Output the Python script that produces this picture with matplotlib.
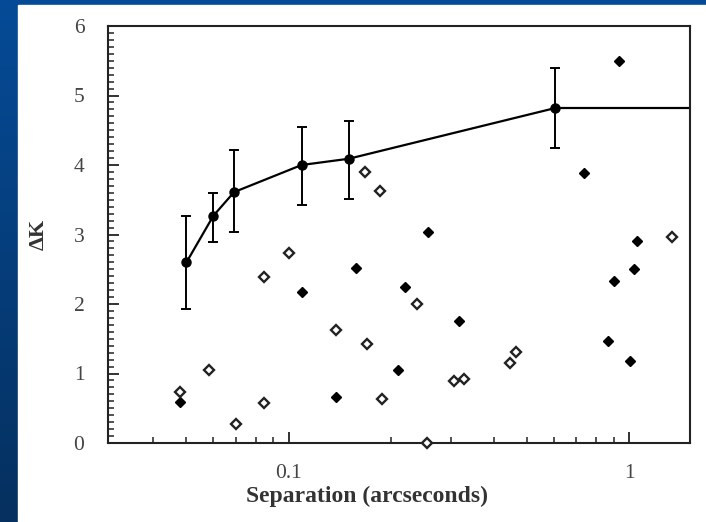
import numpy as np
import matplotlib
matplotlib.use("Agg")
import matplotlib.pyplot as plt
from matplotlib.ticker import FixedLocator, NullFormatter, MultipleLocator

# Detection limit curve (with error bars)
lim_sep = [0.050, 0.060, 0.069, 0.109, 0.150, 0.607]
lim_dk = [2.60, 3.27, 3.61, 4.00, 4.09, 4.82]
lim_lo = [1.93, 2.89, 3.04, 3.42, 3.51, 4.24]
lim_hi = [3.27, 3.60, 4.22, 4.54, 4.63, 5.40]

# Filled diamonds
fill_sep = [0.048, 0.109, 0.257, 0.158, 0.219, 0.317, 0.209, 0.138,
            0.937, 0.738, 1.053, 1.034, 0.905, 0.866, 1.007]
fill_dk = [0.59, 2.17, 3.03, 2.52, 2.24, 1.75, 1.05, 0.66,
           5.50, 3.88, 2.90, 2.51, 2.33, 1.47, 1.18]

# Open diamonds
open_sep = [0.0998, 0.0847, 0.0584, 0.048, 0.0847, 0.070, 0.1675, 0.185, 0.238,
            0.138, 0.170, 0.305, 0.327, 0.188, 0.255, 1.334, 0.446, 0.466]
open_dk = [2.74, 2.39, 1.05, 0.74, 0.575, 0.28, 3.90, 3.63, 2.00,
           1.62, 1.43, 0.89, 0.92, 0.63, 0.0, 2.96, 1.15, 1.31]

plt.rcParams["font.family"] = ["Liberation Serif", "DejaVu Serif"]

fig = plt.figure(figsize=(7.06, 5.22), dpi=100)
fig.patch.set_facecolor("white")

# blue slide frame (top strip + left strip)
bg = fig.add_axes([0, 0, 1, 1], zorder=-10)
grad = np.linspace(0, 1, 256).reshape(-1, 1)
cmap = matplotlib.colors.LinearSegmentedColormap.from_list("slide", ["#054b97", "#06305f"])
bg.imshow(grad, aspect="auto", cmap=cmap, extent=[0, 1, 0, 1], origin="upper")
bg.add_patch(plt.Rectangle((18 / 706, 0), 1, 1 - 5 / 522, color="white"))
bg.set_xlim(0, 1)
bg.set_ylim(0, 1)
bg.axis("off")

ax = fig.add_axes([108 / 706, 1 - 443 / 522, 582 / 706, 417 / 522])
ax.set_xscale("log")
ax.set_xlim(0.0294, 1.51)
ax.set_ylim(0, 6)

yerr = [np.array(lim_dk) - np.array(lim_lo), np.array(lim_hi) - np.array(lim_dk)]
ax.errorbar(lim_sep, lim_dk, yerr=yerr, color="black", lw=1.6, marker="o", ms=6.5,
            capsize=3.5, capthick=1.4, elinewidth=1.4, zorder=3)
# flat continuation of the limit beyond the last bin
ax.plot([lim_sep[-1], ax.get_xlim()[1]], [lim_dk[-1], lim_dk[-1]], color="black", lw=1.6)

ax.plot(fill_sep, fill_dk, ls="none", marker="D", ms=5.5, color="black", zorder=4)
ax.plot(open_sep, open_dk, ls="none", marker="D", ms=5.5, mfc="white", mec="#222222",
        mew=1.7, zorder=4, clip_on=False)

for s in ax.spines.values():
    s.set_linewidth(1.5)
    s.set_color("#222222")

ax.xaxis.set_major_locator(FixedLocator([0.1, 1]))
ax.xaxis.set_minor_locator(FixedLocator([0.04, 0.05, 0.06, 0.07, 0.08, 0.09,
                                         0.2, 0.3, 0.4, 0.5, 0.6, 0.7, 0.8, 0.9]))
ax.xaxis.set_minor_formatter(NullFormatter())
ax.set_xticklabels(["0.1", "1"])
ax.yaxis.set_major_locator(MultipleLocator(1))
ax.yaxis.set_minor_locator(MultipleLocator(0.1))

ax.tick_params(axis="both", which="both", direction="in", top=False, right=False,
               colors="#222222", labelcolor="#444444", labelsize=15.5)
ax.tick_params(axis="x", which="major", length=8, width=1.3, pad=15)
ax.tick_params(axis="x", which="minor", length=4, width=1.1)
ax.tick_params(axis="y", which="major", length=8, width=1.3, pad=17)
ax.tick_params(axis="y", which="minor", length=4.5, width=1.1)

ax.set_xlabel("Separation (arcseconds)", fontsize=17, fontweight="bold", color="#333333")
ax.xaxis.set_label_coords(0.445, -0.102)
ax.set_ylabel("ΔK", fontsize=16, fontweight="bold", color="#333333")
ax.yaxis.set_label_coords(-0.102, 0.5)

fig.savefig("out.png", dpi=100)
